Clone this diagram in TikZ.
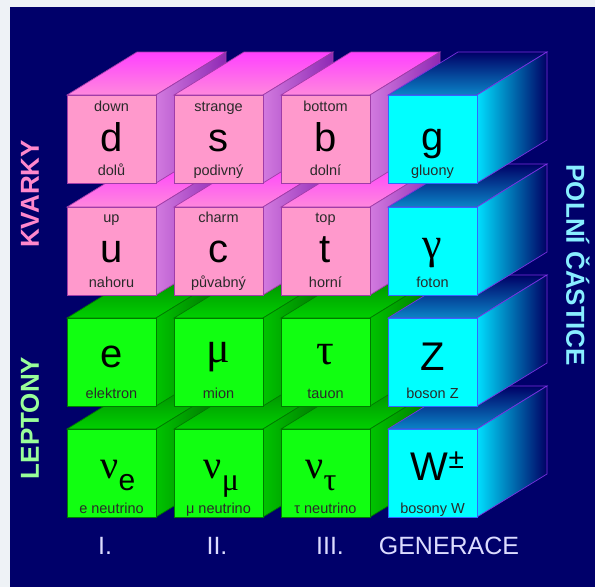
\documentclass[tikz,border=0pt]{standalone}
\usepackage{fontspec}
\setmainfont{Liberation Sans}
\newfontfamily\grk{Liberation Serif}
\definecolor{paper}{HTML}{EEF2F6}
\definecolor{navy}{HTML}{00006A}
\definecolor{pfront}{HTML}{FF99CC}
\definecolor{ptopA}{HTML}{FF40FF}
\definecolor{ptopB}{HTML}{FF88DD}
\definecolor{psideA}{HTML}{D27ADF}
\definecolor{psideB}{HTML}{8E28B4}
\definecolor{pedge}{HTML}{A03CA8}
\definecolor{gfront}{HTML}{11FF11}
\definecolor{gtopA}{HTML}{008A00}
\definecolor{gtopB}{HTML}{00D000}
\definecolor{gsideA}{HTML}{00C400}
\definecolor{gsideB}{HTML}{006A00}
\definecolor{gedge}{HTML}{007A00}
\definecolor{cfront}{HTML}{00FFFF}
\definecolor{ctopA}{HTML}{000066}
\definecolor{ctopB}{HTML}{0A84C8}
\definecolor{csideA}{HTML}{00E0FF}
\definecolor{csideM}{HTML}{0070B0}
\definecolor{csideB}{HTML}{000064}
\definecolor{cedge}{HTML}{7A30E0}
\definecolor{cfedge}{HTML}{3366FF}
\definecolor{labcol}{HTML}{2A2A2A}
\definecolor{kvark}{HTML}{FF88CC}
\definecolor{lepton}{HTML}{99FF99}
\definecolor{pole}{HTML}{88EEFF}
\definecolor{gener}{HTML}{DCDCFF}
\newcommand\cubeat[3]{%
  \shade[#3top] (#1,#2) -- ++(89,0) -- ++(70,-43) -- ++(-89,0) -- cycle;
  \shade[#3side] (#1+89,#2) -- ++(70,-43) -- ++(0,88) -- ++(-70,43) -- cycle;
  \fill[#3front] (#1,#2) rectangle ++(89,88);
}
\begin{document}
\begin{tikzpicture}[x=1pt,y=-1pt,
  Ptop/.style={top color=ptopA, bottom color=ptopB, draw=pedge, line width=0.7pt},
  Pside/.style={left color=psideA, right color=psideB, draw=pedge, line width=0.7pt},
  Pfront/.style={fill=pfront, draw=pedge, line width=0.7pt},
  Gtop/.style={top color=gtopA, bottom color=gtopB, draw=gedge, line width=0.7pt},
  Gside/.style={left color=gsideA, right color=gsideB, draw=gedge, line width=0.7pt},
  Gfront/.style={fill=gfront, draw=gedge, line width=0.7pt},
  Ctop/.style={top color=ctopA, bottom color=ctopB, draw=cedge, line width=0.7pt},
  Cside/.style={left color=csideA, middle color=csideM, right color=csideB, draw=cedge, line width=0.7pt},
  Cfront/.style={fill=cfront, draw=cfedge, line width=0.7pt},
  lab/.style={font=\fontsize{14.5}{15}\selectfont, text=labcol, anchor=base, inner sep=0pt},
  big/.style={font=\fontsize{40}{40}\selectfont, text=black, anchor=base, inner sep=0pt},
  gbig/.style={font=\grk\fontsize{44}{44}\selectfont, text=black, anchor=base, inner sep=0pt},
  side/.style={font=\bfseries\fontsize{26}{26}\selectfont, inner sep=0pt},
  gen/.style={font=\fontsize{25}{25}\selectfont, text=gener, anchor=base, inner sep=0pt}
]
\useasboundingbox (0,0) rectangle (595,587);
\fill[paper] (0,0) rectangle (595,587);
\fill[navy] (10,7) rectangle (595,587);

% row 4 (bottom)
\cubeat{67}{429}{G}
\cubeat{174}{429}{G}
\cubeat{281}{429}{G}
\cubeat{388}{429}{C}
% row 3
\cubeat{67}{318}{G}
\cubeat{174}{318}{G}
\cubeat{281}{318}{G}
\cubeat{388}{318}{C}
% row 2
\cubeat{67}{207}{P}
\cubeat{174}{207}{P}
\cubeat{281}{207}{P}
\cubeat{388}{207}{C}
% row 1
\cubeat{67}{95}{P}
\cubeat{174}{95}{P}
\cubeat{281}{95}{P}
\cubeat{388}{95}{C}

% row 1 texts
\node[lab] (dT) at (111.5,111) {down};
\node[big] (dS) at (111.5,151) {d};
\node[lab] (dB) at (111.5,175) {dolů};
\node[lab] (sT) at (218.5,111) {strange};
\node[big] (sS) at (218.5,151) {s};
\node[lab] (sB) at (218.5,175) {podivný};
\node[lab] (bT) at (325.5,111) {bottom};
\node[big] (bS) at (325.5,151) {b};
\node[lab] (bB) at (325.5,175) {dolní};
\node[big] (gS) at (432.5,150) {g};
\node[lab] (gB) at (432.5,175) {gluony};
% row 2 texts
\node[lab] (uT) at (111.5,222) {up};
\node[big] (uS) at (111.5,262) {u};
\node[lab] (uB) at (111.5,287) {nahoru};
\node[lab] (cT) at (218.5,222) {charm};
\node[big] (cS) at (218.5,262) {c};
\node[lab] (cB) at (218.5,287) {půvabný};
\node[lab] (tT) at (325.5,222) {top};
\node[big] (tS) at (325.5,262) {t};
\node[lab] (tB) at (325.5,287) {horní};
\node[gbig] (gaS) at (432.5,258) {γ};
\node[lab] (gaB) at (432.5,287) {foton};
% row 3 texts
\node[big] (eS) at (111.5,367) {e};
\node[lab] (eB) at (111.5,398) {elektron};
\node[gbig] (muS) at (218.5,362) {μ};
\node[lab] (muB) at (218.5,398) {mion};
\node[gbig] (taS) at (325.5,364) {τ};
\node[lab] (taB) at (325.5,398) {tauon};
\node[big] (zS) at (432.5,370) {Z};
\node[lab] (zB) at (432.5,398) {boson Z};
% row 4 texts
\node[big] (neS) at (118,478) {{\grk ν}\raisebox{-12pt}{\fontsize{30}{30}\selectfont e}};
\node[lab] (neB) at (111.5,513) {e neutrino};
\node[big] (nmS) at (221.5,478) {{\grk ν}\raisebox{-12pt}{\grk\fontsize{32}{32}\selectfont μ}};
\node[lab] (nmB) at (218.5,513) {μ neutrino};
\node[big] (ntS) at (321,478) {{\grk ν}\raisebox{-12pt}{\grk\fontsize{32}{32}\selectfont τ}};
\node[lab] (ntB) at (325.5,513) {τ neutrino};
\node[big] (wS) at (437.5,480) {W\raisebox{12pt}{\fontsize{28}{28}\selectfont ±}};
\node[lab] (wB) at (432.5,513) {bosony W};

% side labels
\node[side, text=kvark, rotate=90] (kv) at (30,194) {KVARKY};
\node[side, text=lepton, rotate=90] (lp) at (30,418) {LEPTONY};
\node[side, text=pole, rotate=-90] (pc) at (578,265) {POLNÍ ČÁSTICE};

% generations
\node[gen] (g1) at (105,554) {I.};
\node[gen] (g2) at (217,554) {II.};
\node[gen] (g3) at (330,554) {III.};
\node[gen] (g4) at (449,554) {GENERACE};
\end{tikzpicture}
\end{document}
